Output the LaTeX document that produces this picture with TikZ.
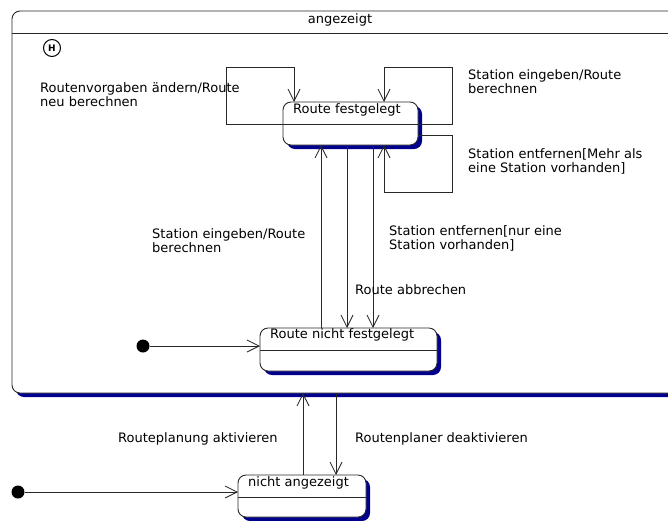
\documentclass[tikz,border=0pt]{standalone}
\usepackage{fontspec}
\setmainfont{DejaVu Sans}
\usetikzlibrary{arrows.meta,shadows}
\definecolor{shadowblue}{RGB}{0,0,140}
\definecolor{linegray}{RGB}{40,40,40}
\tikzset{
  statebox/.style={draw=linegray, line width=0.9pt, fill=white, rectangle,
    rounded corners=8pt, inner sep=0pt, outer sep=0pt,
    drop shadow={shadow xshift=4pt, shadow yshift=-4pt, fill=shadowblue, opacity=1}},
  sepline/.style={draw=linegray, line width=0.9pt},
  tr/.style={draw=linegray, line width=0.8pt,
    -{Straight Barb[length=12pt,width=12pt,line width=0.8pt]}},
  lbl/.style={inner sep=0pt, anchor=base west, align=left},
  initdot/.style={circle, fill=black, inner sep=0pt, minimum size=13pt},
}
\begin{document}
\begin{tikzpicture}[x=1pt, y=-1pt, font=\fontsize{13}{14}\selectfont]
\clip (0,0) rectangle (668,520);
\fill[white] (0,0) rectangle (668,520);

% composite state "angezeigt"
\node[statebox, minimum width=678pt, minimum height=382pt] (outer) at (351,202) {};
\draw[sepline] (outer.west |- 0,33) -- (outer.east |- 0,33);
\node[inner sep=0pt, anchor=base] (outertitle) at (340,23) {angezeigt};

% shallow history pseudostate
\node[draw=black, line width=1pt, circle, minimum size=17pt, inner sep=0pt,
  font=\fontsize{9}{9}\selectfont\bfseries] (hist) at (52,48) {H};

% substates
\node[statebox, minimum width=135pt, minimum height=43pt] (rf) at (350.5,123.5) {};
\draw[sepline] (rf.west |- 0,124) -- (rf.east |- 0,124);
\node[lbl] (rfname) at (293,113) {Route festgelegt};

\node[statebox, minimum width=177pt, minimum height=43pt] (rnf) at (348.5,349.5) {};
\draw[sepline] (rnf.west |- 0,350) -- (rnf.east |- 0,350);
\node[lbl] (rnfname) at (270,338) {Route nicht festgelegt};

\node[statebox, minimum width=128pt, minimum height=42pt] (na) at (302,496) {};
\draw[sepline] (na.west |- 0,497) -- (na.east |- 0,497);
\node[lbl] (naname) at (248,486) {nicht angezeigt};

% initial pseudostates
\node[initdot] (init1) at (143,346) {};
\node[initdot] (init2) at (18,492) {};

% self transitions of "Route festgelegt"
\coordinate (loopL) at (226,67);
\coordinate (loopTR) at (452,67);
\coordinate (loopBR) at (452,192);
\draw[tr] (rf.west |- 0,124) -| (loopL) -| (rf.north -| 294,0);
\draw[tr] (rf.east |- 0,124) -| (loopTR) -| (rf.north -| 384,0);
\draw[tr] (rf.east |- 0,135) -| (loopBR) -| (rf.south -| 384,0);

% transitions between the substates
\draw[tr] (rnf.north -| 321,0) -- (rf.south -| 321,0);
\draw[tr] (rf.south -| 347,0) -- (rnf.north -| 347,0);
\draw[tr] (rf.south -| 373,0) -- (rnf.north -| 373,0);
\draw[tr] (init1) -- (rnf.west |- init1);

% transitions on the top level
\draw[tr] (na.north -| 303,0) -- (outer.south -| 303,0);
\draw[tr] (outer.south -| 336,0) -- (na.north -| 336,0);
\draw[tr] (init2) -- (na.west |- init2);

% transition labels (two-line labels are placed by their last baseline)
\node[lbl] (l1) at (40,106) {Routenvorgaben ändern/Route\\neu berechnen};
\node[lbl] (l2) at (468,93) {Station eingeben/Route\\berechnen};
\node[lbl] (l3) at (468,172) {Station entfernen[Mehr als\\eine Station vorhanden]};
\node[lbl] (l4) at (152,252) {Station eingeben/Route\\berechnen};
\node[lbl] (l5) at (389,249) {Station entfernen[nur eine\\Station vorhanden]};
\node[lbl] (l6) at (355,294) {Route abbrechen};
\node[lbl] (l7) at (118,442) {Routeplanung aktivieren};
\node[lbl] (l8) at (355,442) {Routenplaner deaktivieren};
\end{tikzpicture}
\end{document}
